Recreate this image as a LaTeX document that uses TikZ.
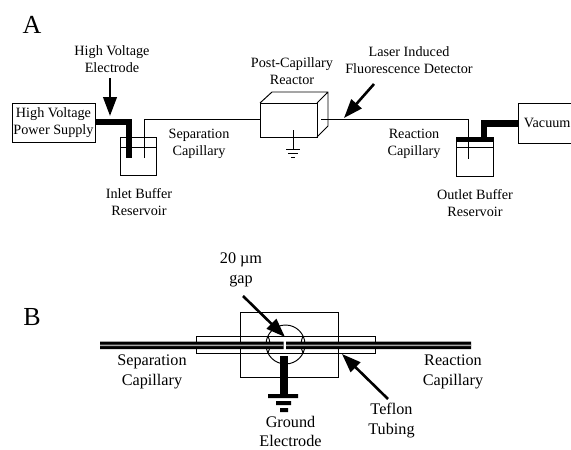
\documentclass[tikz,border=0pt]{standalone}
\usepackage{fontspec}
\setmainfont{Liberation Serif}
\usetikzlibrary{arrows.meta}
\tikzset{
  x=1pt,y=-1pt,
  thin line/.style={draw=black,line width=0.95pt},
  heavy/.style={draw=black,line width=6.5pt,line join=miter},
  label text/.style={font=\fontsize{14.2}{17}\selectfont,align=center,inner sep=0pt,text=black},
  big text/.style={font=\fontsize{16.2}{20}\selectfont,align=center,inner sep=0pt,text=black},
  callout/.style={draw=black,line width=2.6pt,-{Triangle[length=19pt,width=13.5pt]}},
  box/.style={draw=black,line width=0.95pt,fill=white,inner sep=0pt}
}
\begin{document}
\begin{tikzpicture}
\useasboundingbox (0,0) rectangle (571,450);
\clip (0,0) rectangle (571,450);
\node[font=\fontsize{26}{26}\selectfont,inner sep=0pt] (labA) at (32,25) {A};
\node[font=\fontsize{26}{26}\selectfont,inner sep=0pt] (labB) at (32,317) {B};
% panel A
\node[box,minimum width=83pt,minimum height=39pt,label text] (hv) at (53.5,122.5) {High Voltage\\Power Supply};
\draw[thin line] (120,137) rectangle (156,175) (120,147) -- (156,147);
\coordinate (hvA) at (95,122);
\coordinate (hvB) at (129,158);
\draw[heavy] (hv.east |- hvA) -- (129,122) -- (hvB);
\coordinate (inEnd) at (144,158);
\coordinate (reL) at (260,119);
\draw[thin line] (inEnd) -- (144,119) -- (reL);
\draw[thin line] (260,103) rectangle (317,137);
\draw[thin line] (260,103) -- (272,92) -- (328,92) -- (328,126) -- (317,137) (317,103) -- (328,92);
\coordinate (reR) at (321,119);
\coordinate (outEnd) at (468,159);
\draw[thin line] (reR) -- (468,119) -- (outEnd);
\draw[thin line] (293,130) -- (293,149) (286,149) -- (300,149);
\draw[thin line] (288,153) -- (298,153) (291,157) -- (295,157);
\draw[thin line] (456,137) rectangle (493,176) (456,147) -- (493,147);
\fill (456,137) rectangle (493,142);
\node[box,minimum width=60pt,minimum height=40pt,anchor=west,label text,text width=54pt,align=left] (vac) at (518,123) {\hspace{2.5pt}Vacuum};
\draw[heavy] (484,139) -- (484,123.5) -- (vac.west |- 484,123.5);
\coordinate (a1) at (110,78); \coordinate (a2) at (110,116);
\draw[callout] (a1) -- (a2);
\coordinate (a3) at (374,84); \coordinate (a4) at (344,118);
\draw[callout] (a3) -- (a4);
\node[label text] (t1) at (112,59.5) {High Voltage\\Electrode};
\node[label text] (t2) at (292,71) {Post-Capillary\\Reactor};
\node[label text] (t3) at (409,60) {Laser Induced\\Fluorescence Detector};
\node[label text] (t4) at (199,143.5) {Separation\\Capillary};
\node[label text] (t5) at (139,202.5) {Inlet Buffer\\Reservoir};
\node[label text] (t6) at (414,143.5) {Reaction\\Capillary};
\node[label text] (t7) at (475,203.5) {Outlet Buffer\\Reservoir};
% panel B
\draw[thin line] (240,312) rectangle (338,377);
\draw[thin line] (196,336) rectangle (375,353);
\fill[white] (267,337) rectangle (304,352);
\draw[thin line] (285.5,344.5) circle (19.5);
\draw[thin line] (268,336) .. controls (270.5,341) and (270.5,348) .. (268,353);
\draw[thin line] (303,336) .. controls (300.5,341) and (300.5,348) .. (303,353);
\fill[black] (100,341.5) rectangle (283.5,349) (286.2,341.5) rectangle (471,349);
\fill[black!35] (100,344.6) rectangle (283.5,346) (286.2,344.6) rectangle (471,346);
\fill[black] (280,356) rectangle (288,396);
\fill[black] (268,394) rectangle (298,398) (276,401) rectangle (291,405) (280,408) rectangle (288,412);
\coordinate (b1) at (243,296); \coordinate (b2) at (285,337);
\draw[callout] (b1) -- (b2);
\coordinate (b3) at (388,399); \coordinate (b4) at (342,354);
\draw[callout] (b3) -- (b4);
\node[big text] (t8) at (241,269.5) {20 µm\\gap};
\node[big text] (t9) at (152,371.5) {Separation\\Capillary};
\node[big text] (t10) at (453,371.5) {Reaction\\Capillary};
\node[big text] (t11) at (391.5,420.5) {Teflon\\Tubing};
\node[big text,anchor=south,font=\fontsize{16.2}{18.5}\selectfont] (t12) at (290.5,446.5) {Ground\\Electrode};
\end{tikzpicture}
\end{document}
